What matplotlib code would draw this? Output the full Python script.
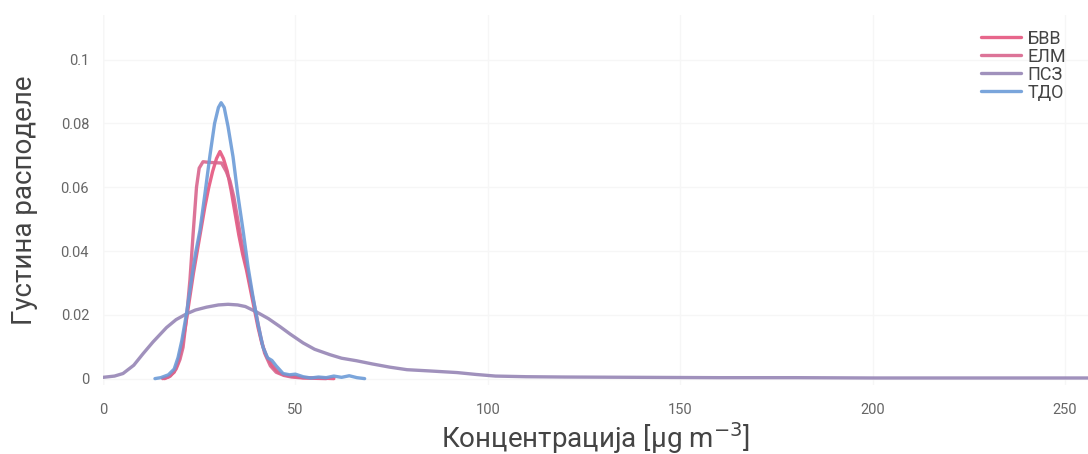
import matplotlib
matplotlib.use("Agg")
import matplotlib.pyplot as plt

# ---- data ----
labels = ["БВВ", "ЕЛМ", "ПСЗ", "ТДО"]
colors = ["#e5557e", "#d9658d", "#9685b5", "#6c9bd7"]

bvv_x = [15.5, 17, 18.5, 19.5, 20.5, 21.5, 22.5, 23.5, 24.5, 25.5, 26.5, 27.5, 28.5, 29.5, 30.4,
         31.3, 32.3, 33.3, 34.3, 35.3, 36.3, 37.3, 38.3, 39.3, 40.3, 41.3, 42.5, 44, 45.5, 47,
         48.6, 50, 52, 55, 58, 60]
bvv_y = [0, 0.0005, 0.002, 0.005, 0.01, 0.017, 0.025, 0.033, 0.04, 0.047, 0.054, 0.06, 0.065,
         0.069, 0.0712, 0.069, 0.065, 0.059, 0.052, 0.045, 0.039, 0.034, 0.028, 0.022, 0.016,
         0.011, 0.007, 0.004, 0.002, 0.0012, 0.0008, 0.0006, 0.0003, 0.0002, 0.0001, 0]

elm_x = [16, 17.5, 19, 20, 20.8, 21.7, 22.6, 23.4, 24.3, 25, 26, 27.5, 29, 30.8, 32, 33, 34, 35,
         36, 37, 38, 39, 40, 41, 42, 43.5, 45, 47, 49, 52, 55, 58]
elm_y = [0, 0.0008, 0.003, 0.006, 0.0098, 0.019, 0.031, 0.045, 0.060, 0.066, 0.068, 0.0678,
         0.0677, 0.0676, 0.065, 0.062, 0.057, 0.050, 0.043, 0.037, 0.031, 0.025, 0.019, 0.013,
         0.008, 0.004, 0.002, 0.001, 0.0005, 0.0002, 0.0001, 0]

psz_x = [0, 3, 5.2, 8, 10.4, 13, 16.5, 19, 21.7, 24, 26.9, 30, 32.5, 35, 37, 39.9, 43, 46, 48.6,
         52, 55, 59, 62, 65.9, 70, 74.5, 79, 85, 92, 97, 102, 110, 120, 140, 160, 180, 200, 220,
         240, 256]
psz_y = [0.0004, 0.0008, 0.0016, 0.0042, 0.0078, 0.0115, 0.016, 0.0185, 0.0203, 0.0215, 0.0224,
         0.0231, 0.0233, 0.0231, 0.0226, 0.0209, 0.0188, 0.0163, 0.014, 0.0112, 0.0092, 0.0075,
         0.0064, 0.0056, 0.0046, 0.0036, 0.0028, 0.0024, 0.0019, 0.0013, 0.0008, 0.0006, 0.0005,
         0.0004, 0.0003, 0.0003, 0.0002, 0.0002, 0.0002, 0.0002]

tdo_x = [13.5, 15, 17, 18.5, 19.5, 20.5, 21.7, 23, 24, 25.2, 26.5, 27.8, 29, 30, 30.7, 31.5, 32.5,
         33.8, 35, 36.4, 37.7, 39, 40.3, 41.6, 42.8, 43.9, 45, 46.8, 48.5, 50, 52, 54, 56, 58, 60,
         62, 64, 66, 68]
tdo_y = [0, 0.0003, 0.0012, 0.003, 0.0066, 0.012, 0.0204, 0.031, 0.039, 0.0465, 0.058, 0.07,
         0.08, 0.085, 0.0865, 0.085, 0.079, 0.0695, 0.058, 0.0465, 0.035, 0.0255, 0.017, 0.0098,
         0.0065, 0.0057, 0.004, 0.0016, 0.0012, 0.0014, 0.0006, 0.0002, 0.0005, 0.0003, 0.0008,
         0.0004, 0.0009, 0.0003, 0]

x_ticks = [0, 50, 100, 150, 200, 250]
y_ticks = [0, 0.02, 0.04, 0.06, 0.08, 0.1]
y_tick_labels = ["0", "0.02", "0.04", "0.06", "0.08", "0.1"]

# ---- figure ----
plt.rcParams["font.family"] = ["Roboto", "DejaVu Sans"]

fig = plt.figure(figsize=(10.88, 4.54), dpi=100)
ax = fig.add_axes([103 / 1088, 1 - 385 / 454, 1 - 103 / 1088, (385 - 15) / 454])

series = [(bvv_x, bvv_y), (elm_x, elm_y), (psz_x, psz_y), (tdo_x, tdo_y)]
for (xs, ys), lab, c in zip(series, labels, colors):
    ax.plot(xs, ys, color=c, lw=2.4, alpha=0.9, label=lab, solid_capstyle="round")

ax.set_xlim(0, 256)
ax.set_ylim(-0.002, 0.114)
ax.set_xticks(x_ticks)
ax.set_yticks(y_ticks)
ax.set_yticklabels(y_tick_labels)
ax.tick_params(axis="both", length=0, colors="#666666", labelsize=10.5)
ax.tick_params(axis="x", pad=13)
ax.tick_params(axis="y", pad=10)
for s in ax.spines.values():
    s.set_visible(False)
ax.grid(True, color="#f6f6f6", lw=1)
ax.axvline(0, color="#eeeeee", lw=1, zorder=0)

ax.set_xlabel("Концентрација [μg m$^{-3}$]", fontsize=20, color="#444444", labelpad=2)
ax.set_ylabel("Густина расподеле", fontsize=20, color="#444444", labelpad=16)

leg = ax.legend(loc="upper right", bbox_to_anchor=(0.985, 0.98), frameon=False, fontsize=13,
                handlelength=2.2, handletextpad=0.35, labelspacing=0.0, borderaxespad=0)
for t in leg.get_texts():
    t.set_color("#444444")

fig.savefig("out.png", dpi=100, facecolor="white")
